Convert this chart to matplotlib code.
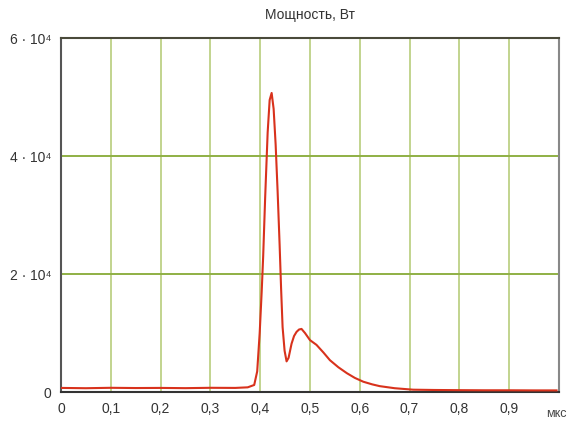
import matplotlib
matplotlib.use('Agg')
import matplotlib.pyplot as plt

plt.rcParams['font.family'] = ['Liberation Sans Narrow', 'Liberation Sans', 'DejaVu Sans']

# время, мкс и мощность, Вт
t = [0.0, 0.05, 0.1, 0.15, 0.2, 0.25, 0.3, 0.35, 0.375, 0.388, 0.394, 0.399,
     0.403, 0.406, 0.41, 0.415, 0.419, 0.423, 0.427, 0.431, 0.435, 0.439,
     0.442, 0.445, 0.449, 0.453, 0.457, 0.463, 0.468, 0.473, 0.478, 0.483,
     0.49, 0.5, 0.513, 0.527, 0.54, 0.557, 0.574, 0.59, 0.607, 0.625, 0.64,
     0.67, 0.707, 0.75, 0.8, 0.85, 0.9, 0.95, 0.995]
p = [700, 650, 720, 680, 700, 660, 720, 700, 800, 1200, 3500, 10000,
     17000, 23000, 33000, 44000, 49500, 50700, 48000, 42000, 34000, 25000,
     17500, 11000, 7000, 5200, 5800, 8200, 9500, 10200, 10600, 10700,
     10000, 8800, 8000, 6700, 5400, 4200, 3200, 2400, 1750, 1300, 1000,
     650, 400, 350, 320, 300, 300, 280, 280]

xticks = [0, 0.1, 0.2, 0.3, 0.4, 0.5, 0.6, 0.7, 0.8, 0.9]
xlabels = ['0', '0,1', '0,2', '0,3', '0,4', '0,5', '0,6', '0,7', '0,8', '0,9']
yticks = [0, 20000, 40000, 60000]
ylabels = ['0', '2 · 10⁴', '4 · 10⁴', '6 · 10⁴']

fig = plt.figure(figsize=(5.86, 4.28), dpi=100)
ax = fig.add_axes([0.104, 0.084, 0.850, 0.827])

# сетка
for x in xticks[1:]:
    ax.axvline(x, color='#c2d48e', lw=1.4, zorder=1)
for y in yticks[1:-1]:
    ax.axhline(y, color='#8fb044', lw=1.4, zorder=1)

ax.plot(t, p, color='#d8321c', lw=1.5, zorder=3)

ax.set_xlim(0, 1.0)
ax.set_ylim(0, 60000)
ax.set_xticks(xticks)
ax.set_xticklabels(xlabels)
ax.set_yticks(yticks)
ax.set_yticklabels(ylabels)
ax.tick_params(length=0, labelsize=10, colors='#333333', pad=7)

ax.spines['left'].set_color('#555555')
ax.spines['bottom'].set_color('#333333')
ax.spines['top'].set_color('#4a4a3a')
ax.spines['right'].set_color('#888888')
for s in ax.spines.values():
    s.set_linewidth(1.5)

ax.set_title('Мощность, Вт', fontsize=10, color='#333333', pad=14)
ax.text(0.995, -0.045, 'мкс', transform=ax.transAxes, fontsize=9,
        color='#444444', ha='center', va='top')

fig.savefig('out.png', dpi=100)
